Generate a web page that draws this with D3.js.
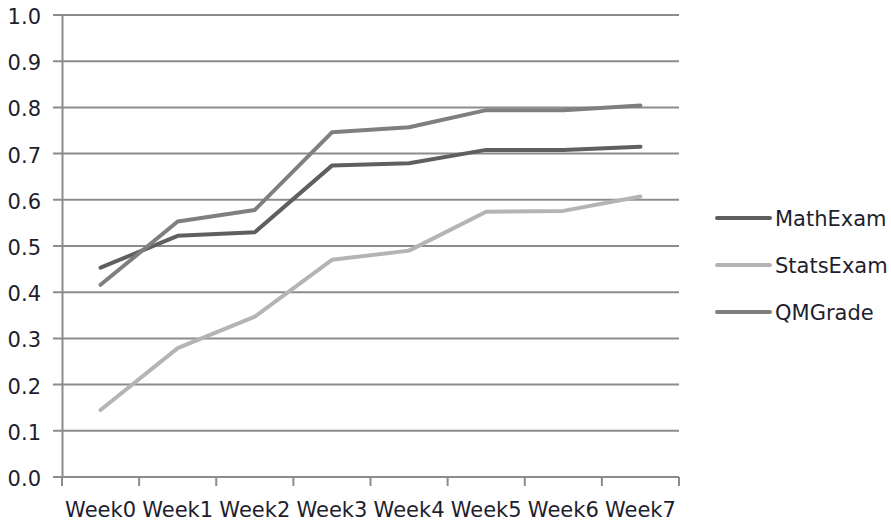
<!DOCTYPE html>
<html>
<head>
<meta charset="utf-8">
<script src="https://cdn.jsdelivr.net/npm/d3@7"></script>
<style>
  body { margin: 0; background: #fff; }
  text { font-family: "DejaVu Sans", Verdana, sans-serif; fill: #1e1e2e; }
</style>
</head>
<body>
<div id="chart"></div>
<script>
var weeks = ["Week0", "Week1", "Week2", "Week3", "Week4", "Week5", "Week6", "Week7"]
var mathExam = [0.453, 0.522, 0.530, 0.674, 0.679, 0.708, 0.708, 0.715]
var statsExam = [0.145, 0.279, 0.347, 0.470, 0.490, 0.574, 0.576, 0.607]
var qmGrade = [0.416, 0.553, 0.578, 0.746, 0.757, 0.794, 0.794, 0.804]
var yTicks = [0, 0.1, 0.2, 0.3, 0.4, 0.5, 0.6, 0.7, 0.8, 0.9, 1.0]

var series = [
    { name: "MathExam", values: mathExam, color: "#5f5f5f" },
    { name: "StatsExam", values: statsExam, color: "#b4b4b4" },
    { name: "QMGrade", values: qmGrade, color: "#7f7f7f" }
]

var margin = { top: 15, right: 212, bottom: 48, left: 62 },
    width = 891 - margin.left - margin.right,
    height = 525 - margin.top - margin.bottom;

var svg = d3.select("#chart")
    .append("svg")
    .attr("width", 891)
    .attr("height", 525)
var g = svg.append("g")
    .attr("transform", "translate(" + margin.left + "," + margin.top + ")");

var x = d3.scaleBand()
    .domain(weeks)
    .range([0, width])
    .padding(0);

var y = d3.scaleLinear()
    .domain([0, 1])
    .range([height, 0]);

// gridlines
g.selectAll(".grid")
    .data(yTicks)
    .enter()
    .append("line")
    .attr("x1", -9)
    .attr("x2", width)
    .attr("y1", d => y(d))
    .attr("y2", d => y(d))
    .attr("stroke", "#8c8c8c")
    .attr("stroke-width", 2)

// y axis
var yAxis = g.append("g")
    .call(d3.axisLeft(y).tickValues(yTicks).tickFormat(d3.format(".1f")).tickSize(0).tickPadding(21))
yAxis.select(".domain").attr("stroke", "#8c8c8c").attr("stroke-width", 2)
yAxis.selectAll("text").style("font-size", "21px").attr("fill", "#1e1e2e").attr("dy", "0.4em")

// x axis with ticks at category boundaries
var xAxis = g.append("g")
    .attr("transform", "translate(0," + height + ")")
    .call(d3.axisBottom(x).tickSize(0).tickPadding(25))
xAxis.select(".domain").remove()
xAxis.selectAll("text").style("font-size", "21px").attr("fill", "#1e1e2e")
g.append("line")
    .attr("x1", 0).attr("x2", width)
    .attr("y1", height).attr("y2", height)
    .attr("stroke", "#8c8c8c").attr("stroke-width", 2)
var bounds = weeks.map(w => x(w)).concat([width])
g.selectAll(".xtick")
    .data(bounds)
    .enter()
    .append("line")
    .attr("x1", d => d).attr("x2", d => d)
    .attr("y1", height).attr("y2", height + 9)
    .attr("stroke", "#8c8c8c").attr("stroke-width", 2)

// lines
var line = d3.line()
    .x((d, i) => x(weeks[i]) + x.bandwidth() / 2)
    .y(d => y(d))

g.selectAll(".series")
    .data(series)
    .enter()
    .append("path")
    .attr("d", d => line(d.values))
    .attr("fill", "none")
    .attr("stroke", d => d.color)
    .attr("stroke-width", 4)
    .attr("stroke-linejoin", "round")
    .attr("stroke-linecap", "round")

// legend
var legend = svg.selectAll(".legend")
    .data(series)
    .enter()
    .append("g")
    .attr("transform", (d, i) => "translate(717," + (218 + i * 47) + ")")
legend.append("line")
    .attr("x1", 0).attr("x2", 53)
    .attr("stroke", d => d.color)
    .attr("stroke-width", 4)
    .attr("stroke-linecap", "round")
legend.append("text")
    .attr("x", 58)
    .attr("dy", "0.38em")
    .style("font-size", "21px")
    .text(d => d.name)
</script>
</body>
</html>
